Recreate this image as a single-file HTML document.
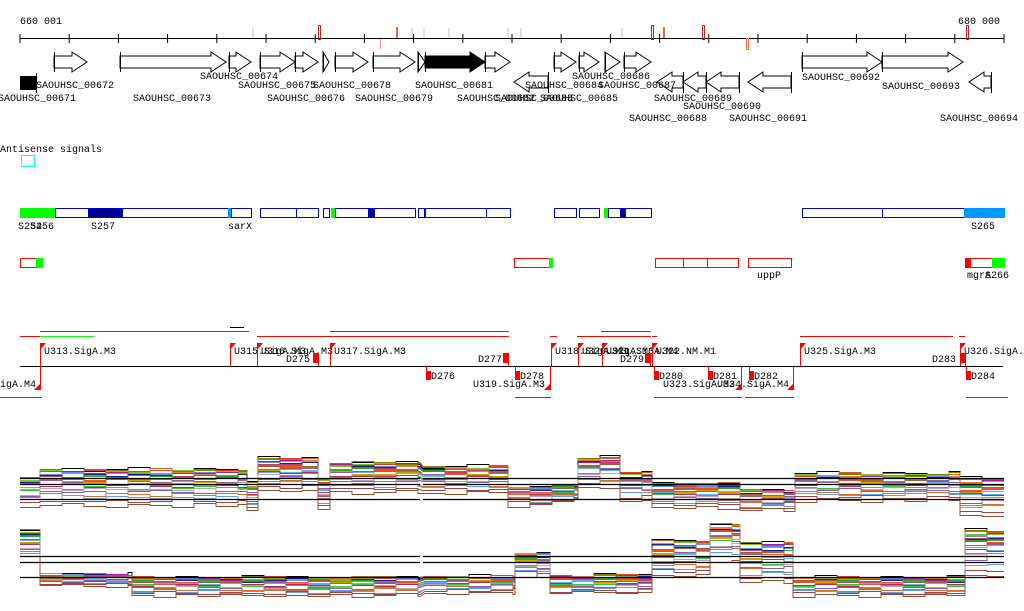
<!DOCTYPE html>
<html><head><meta charset="utf-8"><style>
html,body{margin:0;padding:0;background:#fff;}
svg{display:block;font-family:"Liberation Mono",monospace;font-size:10px;}
</style></head><body>
<svg id="c" width="1024" height="611" viewBox="0 0 1024 611">
<g id="axis">
<text x="20" y="24">660 001</text>
<text x="958" y="24">680 000</text>
<line x1="20" y1="38.5" x2="1004" y2="38.5" stroke="#000"/>
</g>
<g id="marks"></g>
<g id="genes"></g>
<text x="0" y="152">Antisense signals</text>
<rect x="21.5" y="155.5" width="13" height="11" fill="none" stroke="#0ff"/>
<g id="blue"></g>
<g id="red"></g>
<g id="tu"></g>
<g id="expr"></g>
</svg>
<script>
const NS="http://www.w3.org/2000/svg";
function mk(tag,attrs,parent){const e=document.createElementNS(NS,tag);for(const k in attrs)e.setAttribute(k,attrs[k]);parent.appendChild(e);return e;}
function txt(s,x,y,parent,fill){const t=mk('text',{x:x,y:y},parent);if(fill)t.setAttribute('fill',fill);t.textContent=s;return t;}

const axisG=document.getElementById('axis');
for(let i=0;i<=20;i++){const x=20+i*49.2;const l=mk('line',{x1:x,y1:34,x2:x,y2:43,stroke:'#000'},axisG);

}

const markX=[252,318,380,396,411,423,448,507,520,621,651,663,702,746,966];
const markType=['p','o','l','r','p','p','p','p','p','p','o','r','o','s','o'];
const mg=document.getElementById('marks');
markX.forEach((x,i)=>{const t=markType[i];let e;
 if(t==='o')e=mk('rect',{x:x+0.5,y:25.5,width:2,height:14,fill:'none',stroke:'#b22'},mg);
 else if(t==='p')e=mk('rect',{x:x,y:28,width:2,height:10,fill:'#f8d8c8'},mg);
 else if(t==='r')e=mk('rect',{x:x,y:27,width:2,height:11,fill:'#f06040'},mg);
 else if(t==='l')e=mk('rect',{x:x,y:39,width:1,height:10,fill:'#f08060'},mg);
 else e=mk('rect',{x:x+0.5,y:38.5,width:2,height:11,fill:'none',stroke:'#f07050'},mg);
 
 });

const fwdGenes=[[54,87],[120,226],[229,251],[260,295],[295,318],[323,329],[335,368],[373,415],[418,425],[425,485],[485,510],[554,576],[579,599],[605,620],[624,651],[802,882],[882,963]];
const fwdBlack=[9];
const revGenes=[[514,548],[657,683],[683,706],[706,739],[748,791],[969,991]];
const geneLabels=[['SAOUHSC_00671',-2,101],['SAOUHSC_00672',36,88],['SAOUHSC_00673',133,101],['SAOUHSC_00674',200,79],['SAOUHSC_00675',238,88],['SAOUHSC_00676',267,101],['SAOUHSC_00678',313,88],['SAOUHSC_00679',355,101],['SAOUHSC_00681',415,88],['SAOUHSC_00682',457,101],['SAOUHSC_00683',495,101],['SAOUHSC_00684',525,88],['SAOUHSC_00685',540,101],['SAOUHSC_00686',572,79],['SAOUHSC_00687',598,88],['SAOUHSC_00688',629,121],['SAOUHSC_00689',654,101],['SAOUHSC_00690',683,109],['SAOUHSC_00691',729,121],['SAOUHSC_00692',802,80],['SAOUHSC_00693',882,89],['SAOUHSC_00694',940,121]];
const gg=document.getElementById('genes');
const bb=mk('rect',{x:20,y:76,width:16,height:14,fill:'#000'},gg);


mk('line',{x1:36.5,y1:73,x2:36.5,y2:93,stroke:'#000'},gg);
fwdGenes.forEach((g,i)=>{const [a,b]=g;const h=Math.min(15,b-a);const yc=62;
 const pts=[[a,yc-6],[b-h,yc-6],[b-h,yc-10],[b,yc],[b-h,yc+10],[b-h,yc+6],[a,yc+6]];
 const black=fwdBlack.includes(i);
 const p=mk('polygon',{points:pts.map(q=>q.join(',')).join(' '),fill:black?'#000':'#fff',stroke:'#000','stroke-width':1},gg);
 
 
 mk('line',{x1:a+0.5,y1:52,x2:a+0.5,y2:72,stroke:'#000'},gg);});
revGenes.forEach(g=>{const [a,b]=g;const h=Math.min(15,b-a);const yc=82;
 const pts=[[b,yc-6],[a+h,yc-6],[a+h,yc-10],[a,yc],[a+h,yc+10],[a+h,yc+6],[b,yc+6]];
 const p=mk('polygon',{points:pts.map(q=>q.join(',')).join(' '),fill:'#fff',stroke:'#000'},gg);
 
 
 mk('line',{x1:b+0.5,y1:72,x2:b+0.5,y2:93,stroke:'#000'},gg);});
geneLabels.forEach(l=>{const t=txt(l[0],l[1],l[2],gg);
 
 });

const blueBoxes=[[20,55,'#0f0'],[55,88,'#fff'],[88,122,'#00008b'],[122,228,'#fff'],[228,231,'#09f'],[231,251,'#fff'],[260,296,'#fff'],[296,318,'#fff'],[323,329,'#fff'],[331,335,'#0f0'],[335,368,'#fff'],[368,374,'#00008b'],[374,415,'#fff'],[418,424,'#fff'],[425,486,'#fff'],[486,510,'#fff'],[554,576,'#fff'],[579,599,'#fff'],[604,608,'#0f0'],[608,620,'#fff'],[620,625,'#00008b'],[625,651,'#fff'],[802,882,'#fff'],[882,964,'#fff'],[964,1004,'#09f']];
const blueLabels=[['S254',18],['S256',30],['S257',91],['sarX',228],['S265',971]];
const bg=document.getElementById('blue');
blueBoxes.forEach(b=>{const r=mk('rect',{x:b[0]+0.5,y:208.5,width:b[1]-b[0],height:9,fill:b[2],stroke:b[2]==='#0f0'?'#0f0':(b[2]==='#09f'?'#09f':'#00c')},bg);
 
 });
blueLabels.forEach(l=>{const t=txt(l[0],l[1],229,bg);
 
 });
const redBoxes=[[20,36,'#fff'],[36,42,'#0f0'],[514,549,'#fff'],[549,552,'#0f0'],[655,683,'#fff'],[683,707,'#fff'],[707,738,'#fff'],[748,791,'#fff'],[965,970,'#f00'],[970,992,'#fff'],[992,1004,'#0f0']];
const redLabels=[['uppP',757],['mgrA',967],['S266',985]];
const rg=document.getElementById('red');
redBoxes.forEach(b=>{const r=mk('rect',{x:b[0]+0.5,y:258.5,width:b[1]-b[0],height:9,fill:b[2],stroke:b[2]==='#0f0'?'#0f0':'#f00'},rg);
 
 });
redLabels.forEach(l=>{const t=txt(l[0],l[1],278,rg);
 
 });

const tg=document.getElementById('tu');
mk('line',{x1:20,y1:366.5,x2:1003,y2:366.5,stroke:'#000'},tg);
const spanLines=[[20,40,336,'#f00'],[40,94,336,'#0f0'],[40,249,331,'#f00'],[230,244,327,'#000'],[257,509,336,'#f00'],[330,509,331,'#f00'],[550,557,336,'#f00'],[577,651,336,'#f00'],[601,651,331,'#f00'],[652,657,336,'#f00'],[800,953,336,'#f00'],[959,965,336,'#f00'],[0,42,397,'#f00'],[515,551,397,'#f00'],[654,742,397,'#f00'],[745,794,397,'#f00'],[966,1008,397,'#f00']];
spanLines.forEach(s=>{const l=mk('line',{x1:s[0],y1:s[2]+0.5,x2:s[1],y2:s[2]+0.5,stroke:s[3]},tg);
 
 });
const fwdFlags=[['U313.SigA.M3',40],['U315.SigA.M3',230],['U316.SigA.M3',257],['U317.SigA.M3',330],['U318.SigA.M3',551],['U320.SigA.M3',578],['U321.SigA.M4',602],['U322.NM.M1',652],['U325.SigA.M3',800],['U326.SigA.M3',960]];
fwdFlags.forEach(f=>{const x=f[1];
 mk('line',{x1:x+0.5,y1:343,x2:x+0.5,y2:366,stroke:'#f00'},tg);
 const p=mk('polygon',{points:`${x},343 ${x+6},343 ${x},350`,fill:'#f00'},tg);
 
 
 const t=txt(f[0],x+4,354,tg);
 
 });
const revFlags=[['U312.SigA.M4',40,-36],['U319.SigA.M3',550,473],['U323.SigA.M3',741,663],['U324.SigA.M4',793,717]];
revFlags.forEach(f=>{const x=f[1];
 mk('line',{x1:x+0.5,y1:366,x2:x+0.5,y2:390,stroke:'#f00'},tg);
 const p=mk('polygon',{points:`${x+1},383 ${x+1},390 ${x-6},390`,fill:'#f00'},tg);
 
 
 const t=txt(f[0],f[2],387,tg);
 
 });
const termUp=[['D275',313,286],['D277',503,478],['D279',645,620],['D283',960,932]];
termUp.forEach(d=>{const r=mk('rect',{x:d[1],y:353,width:5,height:10,fill:'#f00'},tg);
 
 
 mk('line',{x1:d[1]+5.5,y1:353,x2:d[1]+5.5,y2:366,stroke:'#f00'},tg);
 const t=txt(d[0],d[2],362,tg);
 
 });
const termDn=[['D276',426],['D278',515],['D280',654],['D281',708],['D282',749],['D284',966]];
termDn.forEach(d=>{mk('line',{x1:d[1]+0.5,y1:366,x2:d[1]+0.5,y2:378,stroke:'#f00'},tg);
 const r=mk('rect',{x:d[1],y:371,width:5,height:9,fill:'#f00'},tg);
 
 
 const t=txt(d[0],d[1]+5,379,tg);
 
 });

// expression panels
const seg1X=[[20,40],[40,247],[247,258],[258,318],[318,330],[330,420],[423,508],[508,552],[552,578],[578,620],[620,652],[652,740],[740,795],[795,960],[960,1004]];
const seg1Top=[478,469,483,458,478,462,466,487,484,457,472,483,490,473,478];
const seg1Bot=[505,505,510,490,508,492,492,505,500,488,500,507,510,500,515];
const seg2X=[[20,40],[40,132],[132,420],[425,515],[515,550],[550,652],[652,710],[710,740],[740,793],[793,965],[965,1004]];
const seg2Top=[530,574,577,576,553,575,540,524,542,577,530];
const seg2Bot=[560,585,595,592,575,592,575,560,582,595,575];
const sampleFrac=[0,0.02,0.04,0.06,0.08,0.1,0.12,0.14,0.17,0.2,0.23,0.26,0.29,0.32,0.36,0.4,0.45,0.5,0.56,0.62,0.7,0.78,0.88,1];
const sampleColors=['#000','#c86428','#808000','#e04020','#80c020','#a020a0','#e08040','#6090e0','#202080','#c04060','#30a030','#a06030','#f05030','#906090','#d0a000','#60b0f0','#b03050','#40c040','#c0a0c0','#8060a0','#d07030','#60a0e0','#a04040','#905030'];
const wiggle=[0,1,-1,2,0,-2,1,2,-1,0,2,-2,1,-1,0,1];
const eg=document.getElementById('expr');
function panel(xs,tops,bots,baselines,gapX){
 sampleFrac.forEach((f,j)=>{let d='';let first=true;
  xs.forEach((s,i)=>{const base=tops[i]+f*(bots[i]-tops[i]);
   for(let x=s[0];x<s[1];x+=22){const x2=Math.min(s[1],x+22);const y=Math.round(base+wiggle[(j*5+Math.floor(x/22))%wiggle.length]*0.8)+0.5;
    d+=(first?'M':'L')+x+','+y+' L'+x2+','+y+' ';first=false;}});
  const p=mk('path',{d:d,fill:'none',stroke:sampleColors[j],'stroke-width':1},eg);
  
  });
 baselines.forEach(y=>{mk('line',{x1:20,y1:y+0.5,x2:gapX-1,y2:y+0.5,stroke:'#000','stroke-width':1.3},eg);
  mk('line',{x1:gapX+2,y1:y+0.5,x2:1004,y2:y+0.5,stroke:'#000','stroke-width':1.3},eg);});
}
panel(seg1X,seg1Top,seg1Bot,[478,484,499],421);
panel(seg2X,seg2Top,seg2Bot,[556,562,577],421);
</script>
</body></html>
